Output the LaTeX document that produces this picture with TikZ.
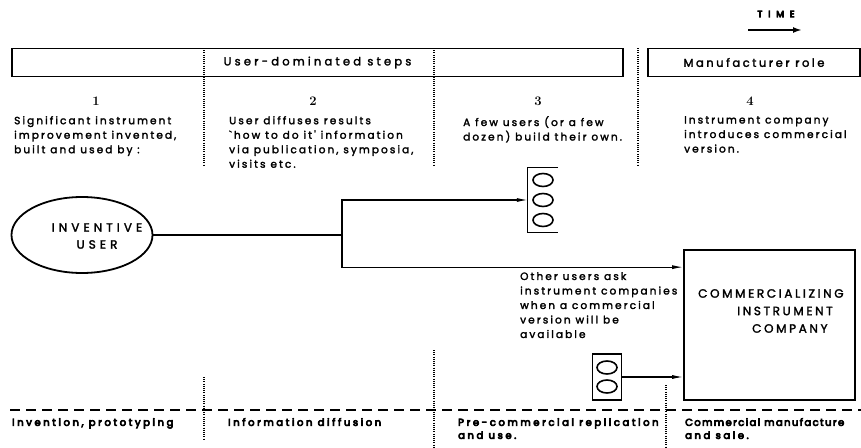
\documentclass[tikz,border=0pt]{standalone}
\usepackage{fontspec}
\newfontfamily\labelfont{Poppins}
\newcommand\inkweight[1]{\special{pdf:literal direct 2 Tr #1 w}}
\usetikzlibrary{shapes.geometric,arrows.meta,positioning}
\begin{document}
\begin{tikzpicture}[x=1pt,y=-1pt,
    txt/.style={font=\labelfont\fontsize{10.5}{14.5}\selectfont\addfontfeature{LetterSpace=20}\inkweight{0.25},
      align=left,anchor=north west,inner sep=0pt},
    phase/.style={txt,font=\labelfont\fontsize{10}{13}\selectfont\addfontfeature{LetterSpace=26}\inkweight{0.7}},
    num/.style={font=\bfseries\fontsize{13}{13}\selectfont,inner sep=0pt},
    band/.style={draw,line width=1.4pt,inner sep=0pt,
      font=\labelfont\fontsize{11.5}{12}\selectfont\addfontfeature{LetterSpace=22}\inkweight{0.25}},
    divider/.style={line width=1.3pt,dash pattern=on 1pt off 1.2pt},
    ring/.style={draw,ellipse,line width=1.6pt,minimum width=20pt,minimum height=13pt,inner sep=0pt},
    link/.style={line width=1.1pt,-{Latex[length=11pt,width=4pt]}}]
  \useasboundingbox (0,0) rectangle (861,447);

  % time arrow
  \node[font=\labelfont\fontsize{9}{9}\selectfont\addfontfeature{LetterSpace=65}\inkweight{0.8}] (time) at (776,14) {TIME};
  \coordinate (t0) at (748,30);
  \coordinate (t1) at (802,30);
  \draw[line width=2.2pt,-{Latex[length=9pt,width=6pt]}] (t0) -- (t1);

  % header bands
  \node[band,minimum width=611pt,minimum height=28pt] (userband) at (317.5,62.5)
    {\addfontfeature{LetterSpace=28}User-dominated steps};
  \node[band,minimum width=212pt,minimum height=28pt] (makerband) at (754,62.5) {Manufacturer role};
  \draw[divider] (204,48) -- (204,165);
  \draw[divider] (434,48) -- (434,165);
  \draw[divider] (638,48) -- (638,165);

  % steps
  \node[num] (n1) at (96,101) {1};
  \node[num] (n2) at (313,101) {2};
  \node[num] (n3) at (538,101) {3};
  \node[num] (n4) at (750,101) {4};
  \node[txt] (s1) at (14,116) {Significant instrument\\improvement invented,\\built and used by :};
  \node[txt] (s2) at (229,116) {User diffuses results\\`how to do it' information\\via publication, symposia,\\visits etc.};
  \node[txt] (s3) at (463,116) {A few users (or a few\\dozen) build their own.};
  \node[txt] (s4) at (684,116) {Instrument company\\introduces commercial\\version.};

  % actors
  \node[draw,ellipse,line width=1.8pt,minimum width=141pt,minimum height=76pt] (inventor) at (82,235) {};
  \node[font=\labelfont\fontsize{12}{17}\selectfont\addfontfeature{LetterSpace=34}\inkweight{0.25},align=center,inner sep=0pt]
    (inventortxt) at (97,236) {INVENTIVE\\USER};
  \node[minimum width=30pt,minimum height=64pt] (few) at (543,200) {};
  \draw[line width=1.3pt] (few.north east) -- (few.north west) -- (few.south west) -- (few.south east);
  \foreach \dy/\n in {20/a,0/b,-20/c}
    \node[ring] (few\n) at ([yshift=\dy pt]few.center) {};
  \node[draw,line width=1.3pt,minimum width=29pt,minimum height=46pt] (others) at (607,377) {};
  \foreach \dy/\n in {9.5/a,-9.5/b}
    \node[ring] (others\n) at ([yshift=\dy pt]others.center) {};
  \node[draw,line width=1.7pt,minimum width=171pt,minimum height=150pt] (company) at (769.5,325) {};
  \node[font=\labelfont\fontsize{12}{17.5}\selectfont\addfontfeature{LetterSpace=22}\inkweight{0.25},
        align=left,anchor=north west,inner sep=0pt] (companytxt) at (698,289)
    {COMMERCIALIZING\\\hspace*{39pt}INSTRUMENT\\\hspace*{54pt}COMPANY};
  \node[txt] (asktxt) at (520,272) {Other users ask\\instrument companies\\when a commercial\\version will be\\available};

  % connectors
  \coordinate (split) at (342,235);
  \coordinate (ask) at ([yshift=-18pt]company.north west);
  \draw[line width=1.1pt] (inventor.east) -- (split);
  \draw[link] (split) |- (few.west);
  \draw[link] (split) |- (ask);
  \draw[link] (others.east) -- (others.east -| company.west);

  % phases
  \draw[line width=1.5pt,dash pattern=on 10pt off 6pt] (10,410) -- (861,410);
  \draw[divider] (204,377) -- (204,440);
  \draw[divider] (434,350) -- (434,447);
  \draw[divider] (666,385) -- (666,447);
  \node[phase] (p1) at (12,418) {Invention, prototyping};
  \node[phase] (p2) at (228,418) {Information diffusion};
  \node[phase] (p3) at (458,418) {Pre-commercial replication\\and use.};
  \node[phase] (p4) at (685,418) {\addfontfeature{LetterSpace=14}Commercial manufacture\\and sale.};
\end{tikzpicture}
\end{document}
